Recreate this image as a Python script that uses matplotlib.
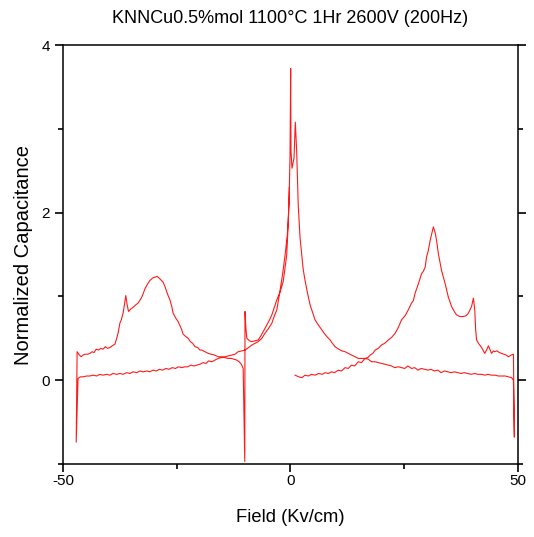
import numpy as np
import matplotlib
matplotlib.use("Agg")
import matplotlib.pyplot as plt
from matplotlib.ticker import MultipleLocator

plt.rcParams['font.family'] = ['Liberation Sans', 'DejaVu Sans']
plt.rcParams['axes.unicode_minus'] = False

# field sweep 0 -> +Emax (rising branch, peak near +31 kV/cm)
field_up = [1.0, 1.8, 2.5, 3.2, 3.9, 4.6, 5.4, 6.2, 7.0, 7.6, 8.3, 9.0, 9.7,
            10.5, 11.2, 12.0, 12.7, 13.4, 14.1, 14.9, 15.6, 16.4, 17.0, 17.5,
            18.1, 18.6, 19.3, 20.0, 20.7, 21.5, 22.2, 23.0, 23.7, 24.4, 25.2,
            25.9, 26.6, 27.0, 27.4, 28.1, 28.8, 29.2, 29.6, 29.9, 30.3, 30.7,
            31.1, 31.4, 31.8, 32.1, 32.5, 33.2, 34.0, 34.7, 35.4, 36.0, 36.5,
            37.2, 38.0, 38.6, 39.1, 39.8, 40.2, 40.5, 40.7, 40.9, 41.3, 41.6,
            42.1, 42.7, 43.1, 43.5, 43.9, 44.2, 44.6, 44.9, 45.4, 45.9, 46.4,
            46.9, 47.4, 47.9, 48.5, 49.0, 49.2, 49.0]
cap_up = [0.06, 0.04, 0.03, 0.06, 0.05, 0.07, 0.06, 0.08, 0.07, 0.09, 0.08,
          0.10, 0.09, 0.12, 0.11, 0.15, 0.14, 0.18, 0.17, 0.22, 0.21, 0.26,
          0.27, 0.30, 0.32, 0.36, 0.38, 0.42, 0.44, 0.48, 0.51, 0.56, 0.63,
          0.72, 0.77, 0.84, 0.92, 0.95, 1.04, 1.15, 1.27, 1.30, 1.35, 1.47,
          1.55, 1.67, 1.76, 1.83, 1.76, 1.67, 1.51, 1.31, 1.15, 0.99, 0.88,
          0.82, 0.78, 0.76, 0.76, 0.77, 0.80, 0.88, 0.98, 0.84, 0.60, 0.48,
          0.44, 0.42, 0.38, 0.32, 0.36, 0.41, 0.36, 0.32, 0.35, 0.34, 0.35,
          0.33, 0.32, 0.31, 0.30, 0.28, 0.30, 0.31, -0.68, 0.00]

# +Emax -> 0 -> -Emax (through the central peaks)
field_down = [48.6, 47.9, 47.2, 46.5, 45.7, 45.0, 44.2, 43.4, 42.7, 42.0,
              41.2, 40.5, 39.7, 38.9, 38.2, 37.5, 36.8, 36.0, 35.3, 34.6,
              33.8, 33.1, 32.4, 31.6, 30.9, 30.2, 29.5, 28.7, 28.0, 27.3,
              26.6, 25.8, 25.1, 24.4, 23.7, 22.9, 22.2, 21.5, 20.8, 20.0,
              19.3, 18.6, 17.8, 17.1, 16.4, 15.6, 14.9, 14.2, 13.4, 12.7,
              12.0, 11.3, 10.9, 10.3, 9.8, 9.2, 8.7, 8.0, 7.4, 6.9, 6.1, 5.4,
              4.9, 4.3, 3.7, 3.2, 2.8, 2.46, 2.1, 1.7, 1.36, 1.06, 0.77,
              0.33, 0.11, 0.04, -0.10, -0.33, -0.7, -1.2, -1.7, -2.3, -3.0,
              -3.6, -4.1, -4.8, -5.6, -6.3, -7.1, -7.8, -8.5, -9.2, -10.0,
              -10.7, -11.5, -12.2, -12.9, -13.7, -14.4, -15.2, -15.9, -16.6,
              -17.3, -18.0, -18.6, -19.2, -19.9, -20.6, -21.2, -21.9, -22.6,
              -23.2, -23.9, -24.6, -25.3, -26.0, -26.7, -27.4, -28.1, -28.8,
              -29.5, -30.2, -30.9, -31.6, -32.4, -33.1, -33.8, -34.6, -35.3,
              -36.0, -36.8, -37.5, -38.2, -39.0, -39.7, -40.4, -41.2, -41.9,
              -42.6, -43.4, -44.1, -44.8, -45.6, -46.2, -46.7, -47.1]
cap_down = [0.03, 0.04, 0.05, 0.05, 0.05, 0.06, 0.06, 0.07, 0.06, 0.07, 0.07,
            0.08, 0.07, 0.08, 0.09, 0.08, 0.09, 0.10, 0.09, 0.10, 0.11, 0.09,
            0.12, 0.11, 0.13, 0.12, 0.13, 0.14, 0.12, 0.15, 0.14, 0.17, 0.14,
            0.15, 0.16, 0.15, 0.17, 0.18, 0.19, 0.20, 0.21, 0.22, 0.22, 0.25,
            0.26, 0.26, 0.26, 0.28, 0.30, 0.32, 0.34, 0.35, 0.36, 0.38, 0.40,
            0.44, 0.48, 0.52, 0.56, 0.60, 0.66, 0.72, 0.80, 0.90, 1.05, 1.19,
            1.32, 1.51, 1.70, 2.09, 2.73, 3.08, 2.65, 2.53, 2.73, 3.72, 2.69,
            2.09, 1.73, 1.49, 1.28, 1.07, 0.84, 0.76, 0.68, 0.62, 0.56, 0.50,
            0.46, 0.44, 0.42, 0.39, 0.36, 0.35, 0.34, 0.31, 0.30, 0.29, 0.28,
            0.27, 0.26, 0.24, 0.22, 0.23, 0.20, 0.21, 0.19, 0.18, 0.17, 0.18,
            0.16, 0.16, 0.15, 0.16, 0.14, 0.15, 0.13, 0.14, 0.12, 0.13, 0.11,
            0.12, 0.10, 0.11, 0.10, 0.11, 0.09, 0.10, 0.08, 0.09, 0.07, 0.08,
            0.07, 0.08, 0.06, 0.07, 0.06, 0.07, 0.05, 0.06, 0.05, 0.05, 0.04,
            0.04, 0.02, -0.74]

# -Emax -> 0 (rising branch, peak near -30 kV/cm)
field_back = [-46.9, -46.4, -46.0, -45.6, -45.2, -44.6, -44.1, -43.6, -43.2,
              -42.7, -42.2, -41.7, -41.2, -40.7, -40.2, -39.7, -39.2, -38.6,
              -38.2, -37.9, -37.5, -37.2, -36.8, -36.5, -36.2, -35.9, -35.6,
              -35.1, -34.6, -34.0, -33.5, -32.8, -32.4, -32.0, -31.4, -30.9,
              -30.3, -29.8, -29.3, -28.7, -28.0, -27.6, -27.3, -26.9, -26.5,
              -26.1, -25.8, -25.2, -24.7, -24.2, -23.9, -23.6, -23.0, -22.5,
              -22.0, -21.5, -21.0, -20.4, -19.9, -19.5, -18.8, -18.1, -17.4,
              -16.7, -15.9, -15.2, -14.5, -13.7, -13.0, -12.4, -11.8, -11.3,
              -10.8, -10.4, -10.05, -10.0, -9.8, -9.6, -9.0, -8.5, -7.8, -7.1,
              -6.4, -5.6, -4.8, -4.1, -3.5, -3.0, -2.3, -1.6, -0.84, -0.48,
              -0.26]
cap_back = [0.34, 0.30, 0.28, 0.30, 0.31, 0.31, 0.32, 0.34, 0.33, 0.37, 0.36,
            0.38, 0.37, 0.40, 0.38, 0.39, 0.41, 0.43, 0.50, 0.56, 0.68, 0.72,
            0.80, 0.90, 1.01, 0.90, 0.82, 0.85, 0.87, 0.90, 0.92, 0.98, 1.03,
            1.09, 1.15, 1.19, 1.22, 1.23, 1.24, 1.21, 1.17, 1.12, 1.07, 1.01,
            0.96, 0.88, 0.80, 0.74, 0.70, 0.64, 0.60, 0.55, 0.52, 0.50, 0.46,
            0.44, 0.40, 0.39, 0.36, 0.36, 0.34, 0.32, 0.31, 0.30, 0.28, 0.28,
            0.27, 0.26, 0.26, 0.25, 0.24, 0.22, 0.19, 0.14, -0.97, 0.82, 0.62,
            0.50, 0.47, 0.46, 0.47, 0.48, 0.54, 0.62, 0.70, 0.78, 0.88, 0.96,
            1.05, 1.18, 1.49, 1.89, 2.30]

field = field_up + field_down + field_back
cap = cap_up + cap_down + cap_back

fig = plt.figure(figsize=(5.34, 5.37), dpi=100)
ax = fig.add_axes([0.118, 0.136, 0.852, 0.780])

ax.plot(field, cap, color='#FF1A1A', linewidth=0.8)

ax.set_xlim(-50, 50)
ax.set_ylim(-1, 4)
ax.xaxis.set_major_locator(MultipleLocator(50))
ax.xaxis.set_minor_locator(MultipleLocator(25))
ax.yaxis.set_major_locator(MultipleLocator(2))
ax.yaxis.set_minor_locator(MultipleLocator(1))
ax.set_yticks([0, 2, 4])
ax.tick_params(which='both', direction='out', right=True, top=False,
               width=1.2, labelsize=11, colors='black')
ax.tick_params(which='major', length=6)
ax.tick_params(which='minor', length=3.5)
ax.tick_params(axis='x', which='major', pad=1.5)
for s in ax.spines.values():
    s.set_linewidth(1.1)

ax.set_xlabel('Field (Kv/cm)', fontsize=13.2, labelpad=15)
ax.set_ylabel('Normalized Capacitance', fontsize=14.5, labelpad=6)
ax.set_title('KNNCu0.5%mol 1100°C 1Hr 2600V (200Hz)', fontsize=13, pad=16)

fig.savefig('out.png', dpi=100)
